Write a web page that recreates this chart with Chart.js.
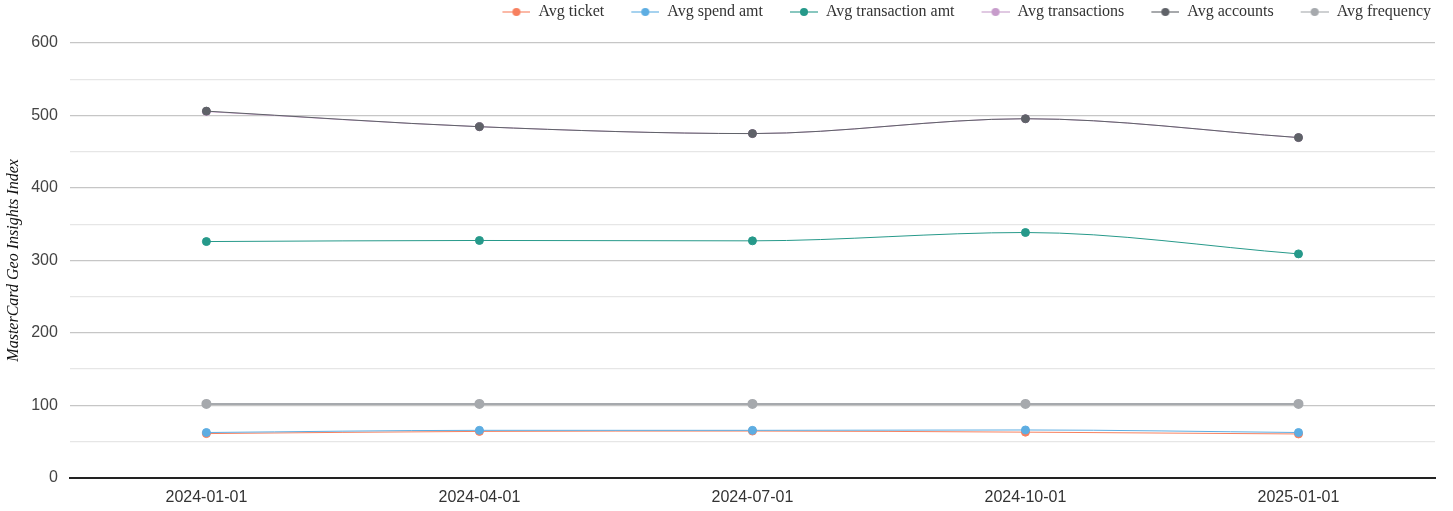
<!DOCTYPE html>
<html>
<head>
<meta charset="utf-8">
<script src="https://cdn.jsdelivr.net/npm/chart.js@4"></script>
<style>
  body { margin: 0; background: #fff; }
  #wrap { width: 1453px; height: 511px; }
</style>
</head>
<body>
<div id="wrap"><canvas id="mcChart"></canvas></div>
<script>
const dates = ["2024-01-01", "2024-04-01", "2024-07-01", "2024-10-01", "2025-01-01"];

const avgTicket = [61, 64, 64.5, 63, 60.5];
const avgSpendAmt = [62.5, 65.5, 65.5, 66, 62.5];
const avgTransactionAmt = [326, 327.5, 327, 338.5, 309];
const avgTransactions = [505.5, 484.5, 475, 495.5, 469.5];
const avgAccounts = [506, 484.5, 475, 495.5, 469.5];
const avgFrequency = [102, 102, 102, 102, 102];

const seriesNames = ["Avg ticket", "Avg spend amt", "Avg transaction amt", "Avg transactions", "Avg accounts", "Avg frequency"];
const seriesColors = ["#f7805f", "#5dade2", "#26998a", "#c79ccb", "#5f6268", "#a6a9ad"];
const seriesValues = [avgTicket, avgSpendAmt, avgTransactionAmt, avgTransactions, avgAccounts, avgFrequency];

// "line with a dot" marker for the legend, empty space on the left acts as item gap
function legendIcon(color) {
    let c = document.createElement("canvas");
    c.width = 51; c.height = 12;
    let g = c.getContext("2d");
    g.globalAlpha = 0.55;
    g.strokeStyle = color;
    g.lineWidth = 2;
    g.beginPath(); g.moveTo(23, 6); g.lineTo(51, 6); g.stroke();
    g.globalAlpha = 1;
    g.fillStyle = color;
    g.beginPath(); g.arc(37, 6, 4, 0, Math.PI * 2); g.fill();
    return c;
}

let datasets = seriesNames.map((name, i) => ({
    label: name,
    data: seriesValues[i],
    borderColor: seriesColors[i],
    backgroundColor: seriesColors[i],
    borderWidth: i === 5 ? 2 : 1,
    pointRadius: 4,
    pointHoverRadius: 5,
    pointStyle: "circle",
    icon: legendIcon(seriesColors[i]),
    cubicInterpolationMode: "monotone",
    fill: false,
    order: 6 - i
}));

// a bit more room between legend and plot
const legendGap = {
    id: "legendGap",
    beforeInit(chart) {
        const fit = chart.legend.fit;
        chart.legend.fit = function () { fit.call(this); this.height += 13; };
    }
};

new Chart(document.getElementById("mcChart").getContext("2d"), {
    type: "line",
    data: { labels: dates, datasets },
    plugins: [legendGap],
    options: {
        responsive: true,
        maintainAspectRatio: false,
        animation: false,
        layout: { padding: { left: 4, right: 18, top: 0, bottom: -6 } },
        plugins: {
            tooltip: { enabled: false },
            legend: {
                position: "top",
                align: "end",
                labels: {
                    usePointStyle: true,
                    pointStyleWidth: 51,
                    boxHeight: 12,
                    padding: 4,
                    color: "#333",
                    font: { family: "Liberation Serif", size: 16 },
                    generateLabels: chart => chart.data.datasets.map((d, i) => ({
                        text: d.label,
                        pointStyle: d.icon,
                        fillStyle: d.borderColor,
                        strokeStyle: d.borderColor,
                        lineWidth: 0,
                        fontColor: "#333",
                        hidden: false,
                        datasetIndex: i
                    }))
                }
            }
        },
        scales: {
            x: {
                type: "category",
                offset: true,
                grid: { display: false, drawTicks: false },
                border: { display: true, color: "#222", width: 2 },
                ticks: { color: "#333", padding: 10, font: { family: "Liberation Sans", size: 16 } }
            },
            y: {
                min: 0,
                max: 600,
                grid: {
                    drawTicks: false,
                    color: ctx => ctx.tick && ctx.tick.value % 100 === 0 ? "#c6c6c6" : "#e6e6e6",
                    lineWidth: 1.3
                },
                border: { display: false },
                ticks: {
                    stepSize: 50,
                    autoSkip: false,
                    padding: 12,
                    color: "#444",
                    font: { family: "Liberation Sans", size: 16 },
                    callback: v => v % 100 === 0 ? v : ""
                },
                title: {
                    display: true,
                    text: "MasterCard Geo Insights Index",
                    color: "#111",
                    font: { family: "Liberation Serif", size: 16, style: "italic" },
                    padding: { top: 0, bottom: -4 }
                }
            }
        }
    }
});
</script>
</body>
</html>
